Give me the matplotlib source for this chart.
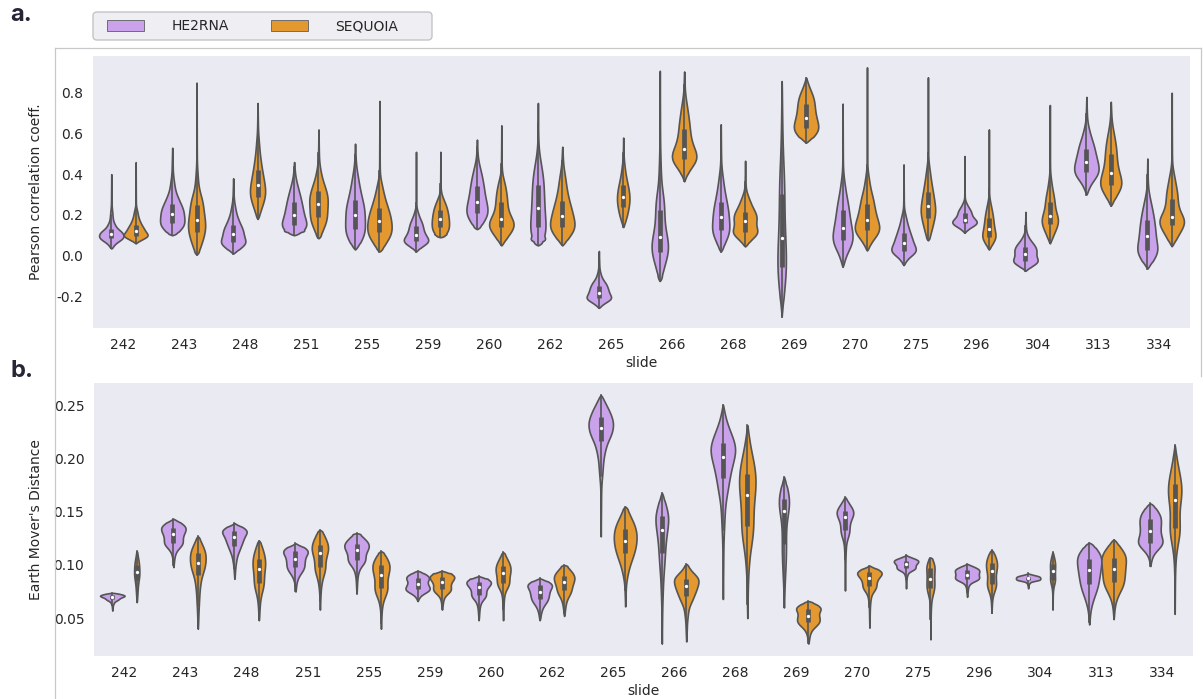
import numpy as np
import matplotlib
matplotlib.use("Agg")
import matplotlib.pyplot as plt
from matplotlib.patches import Patch, FancyBboxPatch
from matplotlib.lines import Line2D

slides = ["242", "243", "248", "251", "255", "259", "260", "262", "265",
          "266", "268", "269", "270", "275", "296", "304", "313", "334"]
models = ["HE2RNA", "SEQUOIA"]

# every violin is described by its values at these percentiles
pct = [0, 2, 10, 25, 50, 75, 90, 98, 100]

pearson_he2rna = [
    [0.035, 0.05, 0.07, 0.085, 0.105, 0.13, 0.17, 0.25, 0.40],
    [0.10, 0.115, 0.135, 0.16, 0.205, 0.255, 0.31, 0.40, 0.53],
    [0.01, 0.03, 0.05, 0.065, 0.105, 0.15, 0.20, 0.27, 0.38],
    [0.10, 0.115, 0.13, 0.15, 0.20, 0.265, 0.32, 0.38, 0.46],
    [0.03, 0.06, 0.09, 0.13, 0.20, 0.275, 0.35, 0.43, 0.55],
    [0.02, 0.04, 0.06, 0.07, 0.10, 0.145, 0.18, 0.23, 0.51],
    [0.13, 0.15, 0.18, 0.21, 0.265, 0.34, 0.40, 0.46, 0.57],
    [0.05, 0.07, 0.095, 0.14, 0.235, 0.345, 0.42, 0.50, 0.75],
    [-0.257, -0.24, -0.22, -0.21, -0.182, -0.148, -0.12, -0.07, 0.023],
    [-0.125, -0.09, -0.03, 0.02, 0.09, 0.225, 0.32, 0.55, 0.91],
    [0.02, 0.05, 0.09, 0.125, 0.19, 0.265, 0.34, 0.43, 0.645],
    [-0.30, -0.20, -0.13, -0.055, 0.087, 0.305, 0.45, 0.68, 0.858],
    [-0.055, -0.01, 0.04, 0.075, 0.138, 0.225, 0.30, 0.40, 0.748],
    [-0.047, -0.02, 0.01, 0.023, 0.06, 0.11, 0.16, 0.22, 0.448],
    [0.112, 0.13, 0.145, 0.158, 0.177, 0.21, 0.235, 0.27, 0.489],
    [-0.075, -0.055, -0.038, -0.026, 0.01, 0.043, 0.07, 0.11, 0.215],
    [0.30, 0.34, 0.38, 0.41, 0.46, 0.525, 0.58, 0.65, 0.78],
    [-0.064, -0.03, 0.0, 0.027, 0.095, 0.175, 0.24, 0.31, 0.477],
]
pearson_sequoia = [
    [0.06, 0.075, 0.09, 0.097, 0.12, 0.152, 0.19, 0.24, 0.46],
    [0.005, 0.03, 0.07, 0.115, 0.175, 0.25, 0.31, 0.45, 0.85],
    [0.18, 0.21, 0.25, 0.29, 0.345, 0.42, 0.50, 0.60, 0.75],
    [0.085, 0.11, 0.15, 0.19, 0.255, 0.315, 0.37, 0.45, 0.62],
    [0.02, 0.045, 0.08, 0.115, 0.17, 0.235, 0.30, 0.38, 0.76],
    [0.09, 0.10, 0.115, 0.14, 0.18, 0.225, 0.26, 0.30, 0.51],
    [0.05, 0.08, 0.11, 0.14, 0.18, 0.265, 0.33, 0.39, 0.64],
    [0.05, 0.08, 0.11, 0.14, 0.195, 0.27, 0.35, 0.43, 0.535],
    [0.14, 0.17, 0.20, 0.24, 0.29, 0.345, 0.40, 0.47, 0.58],
    [0.365, 0.41, 0.45, 0.475, 0.525, 0.62, 0.70, 0.78, 0.905],
    [0.045, 0.07, 0.10, 0.117, 0.17, 0.215, 0.26, 0.31, 0.466],
    [0.555, 0.58, 0.60, 0.625, 0.677, 0.745, 0.79, 0.83, 0.875],
    [0.025, 0.06, 0.10, 0.125, 0.177, 0.253, 0.32, 0.42, 0.925],
    [0.075, 0.10, 0.14, 0.187, 0.243, 0.313, 0.38, 0.46, 0.876],
    [0.03, 0.05, 0.075, 0.092, 0.133, 0.187, 0.23, 0.28, 0.62],
    [0.06, 0.09, 0.12, 0.154, 0.195, 0.264, 0.32, 0.40, 0.74],
    [0.245, 0.28, 0.32, 0.346, 0.404, 0.50, 0.57, 0.64, 0.756],
    [0.046, 0.08, 0.11, 0.15, 0.19, 0.28, 0.35, 0.43, 0.80],
]
emd_he2rna = [
    [0.057, 0.062, 0.066, 0.068, 0.0702, 0.0715, 0.0725, 0.0732, 0.0738],
    [0.098, 0.108, 0.117, 0.121, 0.129, 0.135, 0.138, 0.1405, 0.1435],
    [0.087, 0.098, 0.11, 0.118, 0.126, 0.132, 0.134, 0.136, 0.1395],
    [0.075, 0.085, 0.093, 0.098, 0.106, 0.113, 0.115, 0.117, 0.1205],
    [0.073, 0.088, 0.10, 0.105, 0.114, 0.12, 0.124, 0.128, 0.13],
    [0.066, 0.071, 0.075, 0.077, 0.082, 0.088, 0.09, 0.0925, 0.0945],
    [0.048, 0.058, 0.068, 0.072, 0.0795, 0.084, 0.086, 0.0875, 0.0895],
    [0.048, 0.055, 0.063, 0.068, 0.075, 0.081, 0.083, 0.085, 0.0875],
    [0.127, 0.175, 0.20, 0.217, 0.229, 0.239, 0.247, 0.254, 0.26],
    [0.026, 0.06, 0.09, 0.111, 0.133, 0.146, 0.153, 0.161, 0.168],
    [0.068, 0.12, 0.16, 0.182, 0.202, 0.215, 0.226, 0.238, 0.251],
    [0.06, 0.08, 0.10, 0.12, 0.151, 0.162, 0.168, 0.176, 0.183],
    [0.076, 0.10, 0.125, 0.133, 0.145, 0.151, 0.155, 0.16, 0.164],
    [0.078, 0.088, 0.095, 0.097, 0.101, 0.104, 0.1055, 0.107, 0.1095],
    [0.07, 0.078, 0.085, 0.087, 0.091, 0.095, 0.097, 0.099, 0.101],
    [0.078, 0.082, 0.085, 0.086, 0.0875, 0.089, 0.09, 0.091, 0.092],
    [0.044, 0.06, 0.072, 0.082, 0.095, 0.106, 0.112, 0.117, 0.121],
    [0.099, 0.11, 0.118, 0.121, 0.132, 0.143, 0.149, 0.154, 0.158],
]
emd_sequoia = [
    [0.065, 0.07, 0.078, 0.086, 0.093, 0.10, 0.105, 0.11, 0.113],
    [0.04, 0.055, 0.075, 0.091, 0.102, 0.111, 0.117, 0.123, 0.127],
    [0.048, 0.06, 0.075, 0.083, 0.096, 0.106, 0.113, 0.119, 0.123],
    [0.058, 0.075, 0.09, 0.098, 0.111, 0.119, 0.125, 0.13, 0.133],
    [0.04, 0.058, 0.072, 0.078, 0.091, 0.10, 0.105, 0.11, 0.113],
    [0.058, 0.066, 0.074, 0.077, 0.084, 0.089, 0.091, 0.0925, 0.0945],
    [0.048, 0.062, 0.078, 0.083, 0.092, 0.099, 0.104, 0.109, 0.112],
    [0.052, 0.06, 0.07, 0.076, 0.084, 0.09, 0.094, 0.098, 0.10],
    [0.061, 0.085, 0.10, 0.111, 0.123, 0.134, 0.142, 0.15, 0.155],
    [0.028, 0.045, 0.062, 0.071, 0.08, 0.087, 0.091, 0.097, 0.101],
    [0.05, 0.09, 0.12, 0.137, 0.166, 0.186, 0.20, 0.215, 0.232],
    [0.026, 0.034, 0.042, 0.046, 0.052, 0.059, 0.061, 0.064, 0.066],
    [0.041, 0.06, 0.075, 0.08, 0.088, 0.093, 0.0945, 0.0965, 0.0995],
    [0.03, 0.055, 0.072, 0.078, 0.087, 0.097, 0.101, 0.105, 0.107],
    [0.055, 0.068, 0.078, 0.082, 0.094, 0.102, 0.107, 0.111, 0.114],
    [0.058, 0.072, 0.083, 0.086, 0.094, 0.101, 0.105, 0.109, 0.112],
    [0.049, 0.065, 0.076, 0.084, 0.096, 0.107, 0.113, 0.119, 0.124],
    [0.054, 0.10, 0.125, 0.135, 0.161, 0.176, 0.188, 0.20, 0.213],
]

colors = ["#C9A2EB", "#E3992F"]
gray = "#555555"
W, H = 1203, 699

plt.rcParams["font.family"] = ["DejaVu Sans"]
plt.rcParams["axes.unicode_minus"] = False
plt.rcParams["text.color"] = ".15"
plt.rcParams["axes.labelcolor"] = ".15"
plt.rcParams["xtick.color"] = ".15"
plt.rcParams["ytick.color"] = ".15"


def profile(q, n=600):
    # density = slope of a monotone cubic (Fritsch-Carlson) through the
    # percentile points, flat at both extremes; smoothed in the middle,
    # left unsmoothed right at the two tips so they stay pointed
    q = np.asarray(q, float)
    p = np.asarray(pct, float) / 100.0
    dq = np.diff(q)
    s = np.diff(p) / dq
    d = np.zeros(len(q))
    for i in range(1, len(q) - 1):
        w1 = 2 * dq[i] + dq[i - 1]
        w2 = dq[i] + 2 * dq[i - 1]
        d[i] = (w1 + w2) / (w1 / s[i - 1] + w2 / s[i])
    step = (q[-1] - q[0]) / n
    h = 0.25 * (q[5] - q[3])
    pad = int(np.ceil(4 * h / step))
    y = q[0] + step * np.arange(-pad, n + pad + 1)
    f = np.zeros_like(y)
    inside = (y >= q[0]) & (y <= q[-1])
    yi = y[inside]
    idx = np.clip(np.searchsorted(q, yi, side="right") - 1, 0, len(q) - 2)
    t = (yi - q[idx]) / dq[idx]
    f[inside] = ((6 * t ** 2 - 6 * t) * p[idx] + (6 * t - 6 * t ** 2) * p[idx + 1]) / dq[idx] \
        + (3 * t ** 2 - 4 * t + 1) * d[idx] + (3 * t ** 2 - 2 * t) * d[idx + 1]
    f = np.clip(f, 0, None)
    k = step * np.arange(-pad, pad + 1)
    g = np.exp(-0.5 * (k / h) ** 2)
    fs = np.convolve(f, g / g.sum(), mode="same")
    a = np.clip(np.minimum(yi - q[0], q[-1] - yi) / h, 0, 1)
    return yi, a * fs[inside] + (1 - a) * f[inside]


def draw_panel(ax, he, sq, ylim, yticks, ylabel):
    for i in range(len(slides)):
        groups = [he[i], sq[i]]
        profs = [profile(g) for g in groups]
        peak = max(d.max() for _, d in profs)
        for k, ((y, d), q) in enumerate(zip(profs, groups)):
            x = i - 0.2 if k == 0 else i + 0.2
            half = 0.2 * d / peak
            ax.fill_betweenx(y, x - half, x + half, facecolor=colors[k],
                             edgecolor=gray, linewidth=1.2, zorder=2)
            q1, med, q3 = q[3], q[4], q[5]
            iqr = q3 - q1
            ax.plot([x, x], [max(q[0], q1 - 1.5 * iqr), min(q[-1], q3 + 1.5 * iqr)],
                    color=gray, lw=1.2, zorder=3)
            ax.plot([x, x], [q1, q3], color=gray, lw=3.4,
                    solid_capstyle="butt", zorder=3)
            ax.plot(x, med, "o", ms=2.4, mfc="white", mew=0, zorder=4)
    ax.set_facecolor("#EAEAF2")
    for s in ax.spines.values():
        s.set_visible(False)
    ax.set_xlim(-0.5, len(slides) - 0.5)
    ax.set_ylim(*ylim)
    ax.set_xticks(range(len(slides)))
    ax.set_xticklabels(slides)
    ax.set_yticks(yticks)
    ax.tick_params(length=0, pad=7, labelsize=10)
    ax.set_xlabel("slide", fontsize=10, labelpad=3)
    ax.set_ylabel(ylabel, fontsize=10)
    ax.yaxis.set_label_coords(-0.046, 0.5)


fig = plt.figure(figsize=(W / 100, H / 100), dpi=100)
ax1 = fig.add_axes([93 / W, 1 - 328 / H, 1097 / W, 272 / H])
ax2 = fig.add_axes([94 / W, 1 - 656 / H, 1099 / W, 273 / H])

draw_panel(ax1, pearson_he2rna, pearson_sequoia, (-0.356, 0.981),
           [-0.2, 0.0, 0.2, 0.4, 0.6, 0.8], "Pearson correlation coeff.")
draw_panel(ax2, emd_he2rna, emd_sequoia, (0.0143, 0.2714),
           [0.05, 0.10, 0.15, 0.20, 0.25], "Earth Mover's Distance")

# light frame around the top panel
fc = "#C8C8C8"
fig.add_artist(Line2D([55 / W, 1201 / W], [1 - 48 / H] * 2, transform=fig.transFigure, color=fc, lw=0.9))
fig.add_artist(Line2D([55 / W] * 2, [1 - 48 / H, 0], transform=fig.transFigure, color=fc, lw=0.9))
fig.add_artist(Line2D([1201 / W] * 2, [1 - 48 / H, 1 - 376 / H], transform=fig.transFigure, color=fc, lw=0.9))

# legend box
box = FancyBboxPatch((0.93, (H - 40) / 100), 3.39, 0.28,
                     boxstyle="round,pad=0,rounding_size=0.04",
                     transform=fig.dpi_scale_trans, facecolor="#EEEEF3",
                     edgecolor="#C4C4C4", lw=1.0)
fig.add_artist(box)
handles = [Patch(facecolor=c, edgecolor="#6E6E6E", lw=0.7, label=m) for c, m in zip(colors, models)]
fig.legend(handles=handles, ncol=2, loc="center left",
           bbox_to_anchor=(107 / W, 1 - 26.5 / H), frameon=False, fontsize=10,
           handlelength=2.66, handleheight=0.86, handletextpad=2.0,
           columnspacing=3.0, borderpad=0, borderaxespad=0)

fig.text(10 / W, 1 - 21 / H, "a.", fontsize=17, fontweight="bold",
         family=["Inter", "DejaVu Sans"], color="#262637")
fig.text(10 / W, 1 - 377 / H, "b.", fontsize=17, fontweight="bold",
         family=["Inter", "DejaVu Sans"], color="#262637")

fig.savefig("out.png", dpi=100)
